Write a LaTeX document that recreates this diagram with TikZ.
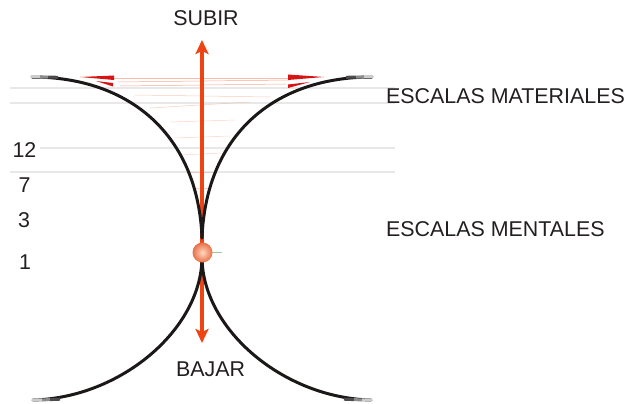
\documentclass[tikz,border=0pt]{standalone}
\usepackage{fontspec}
\setmainfont{Liberation Sans}
\usetikzlibrary{arrows.meta}
\definecolor{txt}{RGB}{35,31,32}
\definecolor{arr}{RGB}{238,68,20}
\definecolor{wedge}{RGB}{215,20,20}
\definecolor{curve}{RGB}{28,24,24}
\definecolor{ballin}{RGB}{255,215,190}
\definecolor{ballout}{RGB}{232,112,72}
\tikzset{
  lbl/.style={font=\fontsize{21.4}{25}\selectfont, text=txt, inner sep=0pt},
  guide/.style={black!9, line width=1.2pt},
  faint/.style={arr!45, line width=0.5pt},
  hourglass/.style={curve, line width=3pt, line cap=round},
  fadeA/.style={black!20, line width=3pt},
  fadeB/.style={black!45, line width=3pt},
  fadeC/.style={black!70, line width=3pt},
  updown/.style={arr, line width=4pt, {Stealth[length=14pt,width=13pt,inset=3pt]}-{Stealth[length=14pt,width=13pt,inset=3pt]}},
  redwedge/.style={fill=wedge, draw=none}
}
\begin{document}
\begin{tikzpicture}[x=1pt,y=-1pt]
\useasboundingbox (0,0) rectangle (630,404);
% faint guide lines
\draw[guide] (10,88) -- (395,88);
\draw[guide] (10,103) -- (395,103);
\draw[guide] (40,148) -- (395,148);
\draw[guide] (10,172) -- (395,172);
% faint lines inside funnel
\draw[faint, opacity=0.8] (113,78) -- (290,78);
\draw[faint] (118,82) -- (290,80);
\draw[faint] (120,86) -- (286,84);
\draw[faint, opacity=0.6] (135,95) -- (270,97);
\draw[faint, opacity=0.6] (150,108) -- (250,102);
\draw[faint, opacity=0.5] (170,122) -- (235,120);
\draw[faint, opacity=0.5] (175,138) -- (230,136);
\draw[faint, opacity=0.5] (180,155) -- (222,153);
\draw[faint, opacity=0.5] (190,172) -- (215,172);
\draw[faint, opacity=0.5] (195,188) -- (210,188);
% arrow
\coordinate (top) at (202,40);
\coordinate (bot) at (202,343);
\draw[updown] (top) -- (bot);
% curves
\draw[hourglass] (32,77) .. controls (130,77) and (198,135) .. (202,238);
\draw[hourglass] (372,77) .. controls (274,77) and (206,135) .. (202,238);
\draw[hourglass] (202,258) .. controls (201,330) and (120,398) .. (33,400);
\draw[hourglass] (202,258) .. controls (203,330) and (284,398) .. (371,400);
% fade at ends
\draw[fadeC] (48,77.1) -- (58,77.3);
\draw[fadeB] (40,77) -- (48,77.1);
\draw[fadeA] (31,77) -- (40,77);
\draw[fadeC] (356,77.1) -- (346,77.3);
\draw[fadeB] (364,77) -- (356,77.1);
\draw[fadeA] (373,77) -- (364,77);
\draw[fadeC] (50,399.6) -- (60,399.2);
\draw[fadeB] (42,399.9) -- (50,399.6);
\draw[fadeA] (32,400) -- (42,399.9);
\draw[fadeC] (354,399.6) -- (344,399.2);
\draw[fadeB] (362,399.9) -- (354,399.6);
\draw[fadeA] (372,400) -- (362,399.9);
% red wedges
\fill[redwedge] (80,77) -- (114,75.5) -- (114,80) -- cycle;
\fill[redwedge] (96,81) -- (113,83) -- (113,86.5) -- cycle;
\fill[redwedge] (324,77) -- (288,74.5) -- (288,80) -- cycle;
\fill[redwedge] (310,82) -- (288,84.5) -- (288,88) -- cycle;
% ball
\draw[green!50!black!40, line width=0.6pt] (212,252) -- (222,252);
\node[circle, minimum size=20pt, inner sep=0pt, inner color=ballin, outer color=ballout] (ball) at (202.5,252.5) {};
% labels
\node[lbl] (subir) at (206,18) {SUBIR};
\node[lbl] (bajar) at (210.5,369.5) {BAJAR};
\node[lbl, anchor=west] (mat) at (386,96) {ESCALAS MATERIALES};
\node[lbl, anchor=west] (ment) at (386,229.5) {ESCALAS MENTALES};
\node[lbl] (n12) at (24.5,150.5) {12};
\node[lbl] (n7) at (24.5,185) {7};
\node[lbl] (n3) at (24,220.5) {3};
\node[lbl] (n1) at (25,262.5) {1};
\end{tikzpicture}
\end{document}
